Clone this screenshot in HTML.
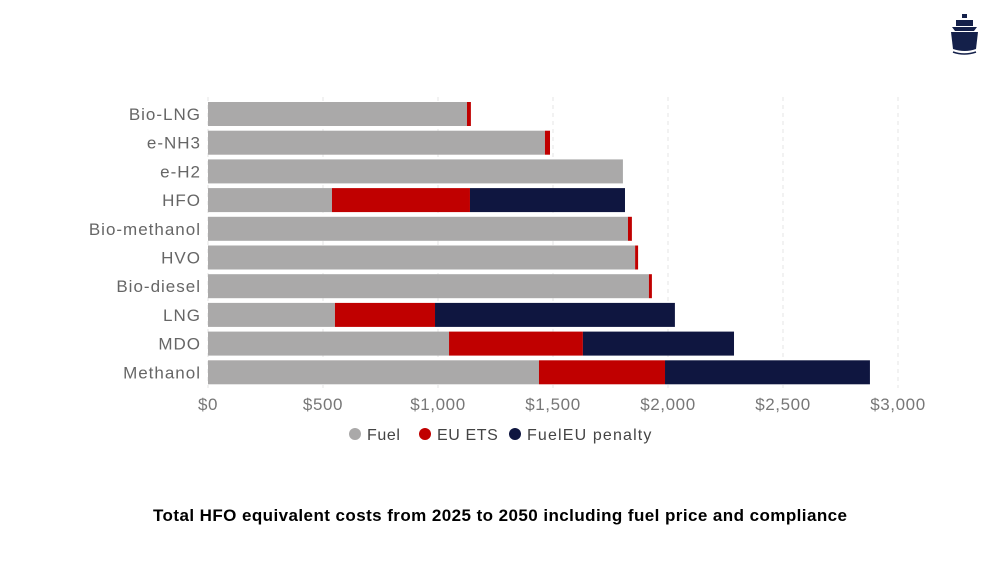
<!DOCTYPE html>
<html><head><meta charset="utf-8"><style>
body{margin:0;width:1000px;height:563px;background:#fff;overflow:hidden;font-family:"Liberation Sans",sans-serif}
</style></head><body>
<svg id="chart" width="1000" height="563">
<g fill="#14204a">
<rect x="962" y="14" width="5" height="4"/>
<path d="M956 20h17v6h-17z"/>
<path d="M952 27h25l-3 4h-19z"/>
<path d="M951 32h27l-2 17q-11 4-23 0z"/>
<path d="M953 52q11 4 23 0" stroke="#14204a" stroke-width="1.5" fill="none"/>
</g>
<g id="grid"></g><g id="bars"></g><g id="labels"></g>
<g font-size="16" fill="#444" letter-spacing="0.6">
<circle cx="355" cy="434" r="6" fill="#aaa9a9"/><text x="367" y="440">Fuel</text>
<circle cx="425" cy="434" r="6" fill="#c00000"/><text x="437" y="440">EU ETS</text>
<circle cx="515" cy="434" r="6" fill="#0f1640"/><text x="527" y="440" textLength="125">FuelEU penalty</text>
</g>
<text x="500" y="521" text-anchor="middle" font-size="17" font-weight="bold" fill="#000" textLength="694">Total HFO equivalent costs from 2025 to 2050 including fuel price and compliance</text>
</svg>
<script>
const categories=["Bio-LNG","e-NH3","e-H2","HFO","Bio-methanol","HVO","Bio-diesel","LNG","MDO","Methanol"];
const fuel=[1126,1465,1804,539,1826,1857,1917,552,1048,1439];
const euEts=[17,22,0,600,17,13,13,435,582,548];
const fuelEu=[0,0,0,674,0,0,0,1043,657,891];
const ticks=[0,500,1000,1500,2000,2500,3000];
const tickLabels=["$0","$500","$1,000","$1,500","$2,000","$2,500","$3,000"];
const NS="http://www.w3.org/2000/svg";
const x=v=>208+v*0.23;
const y=i=>102+i*28.7;
const bh=24;
function mk(t,a,p){const e=document.createElementNS(NS,t);for(const k in a)e.setAttribute(k,a[k]);p.appendChild(e);return e;}
const grid=document.getElementById('grid'),bars=document.getElementById('bars'),labels=document.getElementById('labels');
ticks.forEach((t,i)=>{
 const l=mk('line',{x1:x(t),x2:x(t),y1:97,y2:388,stroke:'#e6e6e6','stroke-dasharray':'4 4'},grid);
 
 
 const tx=mk('text',{x:x(t),y:410,'text-anchor':'middle','font-size':17,fill:'#777','letter-spacing':0.6},labels);
 tx.textContent=tickLabels[i];
 
 
});
categories.forEach((c,i)=>{
 const tx=mk('text',{x:201,y:y(i)+bh/2+6,'text-anchor':'end','font-size':17,fill:'#666','letter-spacing':1},labels);
 tx.textContent=c;
 
 
 let s=0;
 [[fuel,'#aaa9a9','fuel'],[euEts,'#c00000','eu-ets'],[fuelEu,'#0f1640','fueleu']].forEach(([arr,col,n])=>{
  const v=arr[i];if(v<=0)return;
  const r=mk('rect',{x:x(s),y:y(i),width:x(s+v)-x(s),height:bh,fill:col},bars);
  
  
  s+=v;
 });
});
</script>
</body></html>
